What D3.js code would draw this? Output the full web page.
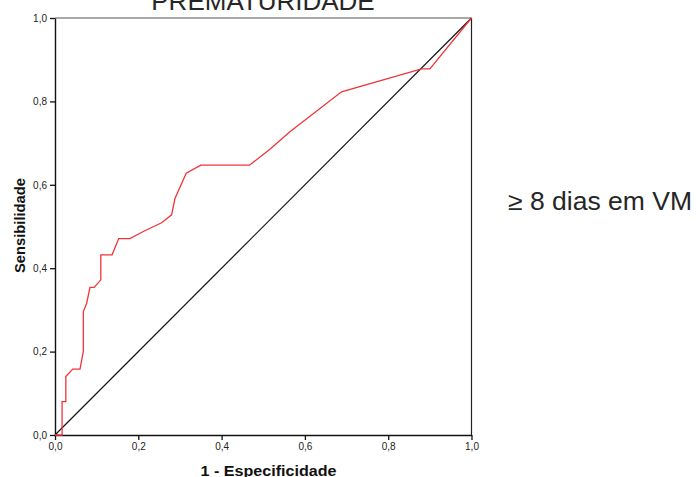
<!DOCTYPE html>
<html>
<head>
<meta charset="utf-8">
<script src="https://cdn.jsdelivr.net/npm/d3@7"></script>
<style>
    body { margin: 0; background: #fff; }
    svg { display: block; font-family: "Liberation Sans", Arial, sans-serif; }
</style>
</head>
<body>
<svg id="chart" width="696" height="477"></svg>
<script>
// ROC curve: 1 - especificidade (x) vs sensibilidade (y)
const fpr = [0, 0.017, 0.017, 0.026, 0.026, 0.0425, 0.060, 0.068, 0.068, 0.076, 0.084, 0.094,
    0.110, 0.110, 0.137, 0.153, 0.180, 0.212, 0.256, 0.280, 0.288, 0.315, 0.350, 0.467,
    0.516, 0.564, 0.688, 0.880, 0.900, 1.0];
const tpr = [0, 0, 0.080, 0.080, 0.140, 0.158, 0.158, 0.200, 0.296, 0.316, 0.354, 0.354,
    0.372, 0.432, 0.432, 0.471, 0.471, 0.488, 0.509, 0.528, 0.567, 0.628, 0.647, 0.647,
    0.685, 0.727, 0.823, 0.878, 0.878, 1.0];
const reference = [0, 1];
const tickValues = [0, 0.2, 0.4, 0.6, 0.8, 1.0];

const title = 'PREMATURIDADE';
const sideLabel = '≥ 8 dias em VM';
const xTitle = '1 - Especificidade';
const yTitle = 'Sensibilidade';

const svg = d3.select('#chart');

const x = d3.scaleLinear().domain([0, 1]).range([55, 471.5]);
const y = d3.scaleLinear().domain([0, 1]).range([435, 18]);

const fmt = d => d3.format('.1f')(d).replace('.', ',');

// frame (top gray, right dark)
svg.append('line')
    .attr('x1', x(0)).attr('x2', x(1))
    .attr('y1', y(1)).attr('y2', y(1))
    .attr('stroke', '#8c8c8c').attr('stroke-width', 1.3);
svg.append('line')
    .attr('x1', x(1)).attr('x2', x(1))
    .attr('y1', y(1)).attr('y2', y(0))
    .attr('stroke', '#222').attr('stroke-width', 1.2);

const xAxis = svg.append('g')
    .attr('transform', `translate(0,${y(0)})`)
    .call(d3.axisBottom(x).tickValues(tickValues).tickFormat(fmt).tickSize(5).tickSizeOuter(0));

const yAxis = svg.append('g')
    .attr('transform', `translate(${x(0)},0)`)
    .call(d3.axisLeft(y).tickValues(tickValues).tickFormat(fmt).tickSize(5).tickSizeOuter(0));

[xAxis, yAxis].forEach(a => {
    a.select('.domain').attr('stroke', '#111').attr('stroke-width', 1.4);
    a.selectAll('.tick line').attr('stroke', '#111').attr('stroke-width', 1.3);
    a.selectAll('.tick text')
        .attr('font-family', '"Liberation Sans", Arial, sans-serif')
        .attr('font-size', 10)
        .attr('fill', '#222');
});

// diagonal reference
svg.append('line')
    .attr('x1', x(reference[0])).attr('y1', y(reference[0]))
    .attr('x2', x(reference[1])).attr('y2', y(reference[1]))
    .attr('stroke', '#111').attr('stroke-width', 1.2);

// ROC curve
const line = d3.line()
    .x((d, i) => x(fpr[i]))
    .y((d, i) => y(tpr[i]));

svg.append('path')
    .datum(fpr)
    .attr('d', line)
    .attr('fill', 'none')
    .attr('stroke', '#f0343a')
    .attr('stroke-width', 1.3);

// titles (the title is clipped at the top in the original too)
svg.append('text')
    .attr('x', 263).attr('y', 9.5)
    .attr('text-anchor', 'middle')
    .attr('font-size', 26)
    .attr('fill', '#262626')
    .text(title);

svg.append('text')
    .attr('x', 508).attr('y', 209.5)
    .attr('font-size', 25)
    .attr('textLength', 184)
    .attr('lengthAdjust', 'spacingAndGlyphs')
    .attr('fill', '#262626')
    .text(sideLabel);

svg.append('text')
    .attr('x', 268.5).attr('y', 476)
    .attr('text-anchor', 'middle')
    .attr('font-size', 14)
    .attr('textLength', 136)
    .attr('lengthAdjust', 'spacingAndGlyphs')
    .attr('font-weight', 'bold')
    .attr('fill', '#111')
    .text(xTitle);

svg.append('text')
    .attr('transform', 'translate(24.5,225.5) rotate(-90)')
    .attr('text-anchor', 'middle')
    .attr('font-size', 14.5)
    .attr('textLength', 95)
    .attr('lengthAdjust', 'spacingAndGlyphs')
    .attr('font-weight', 'bold')
    .attr('fill', '#111')
    .text(yTitle);
</script>
</body>
</html>
